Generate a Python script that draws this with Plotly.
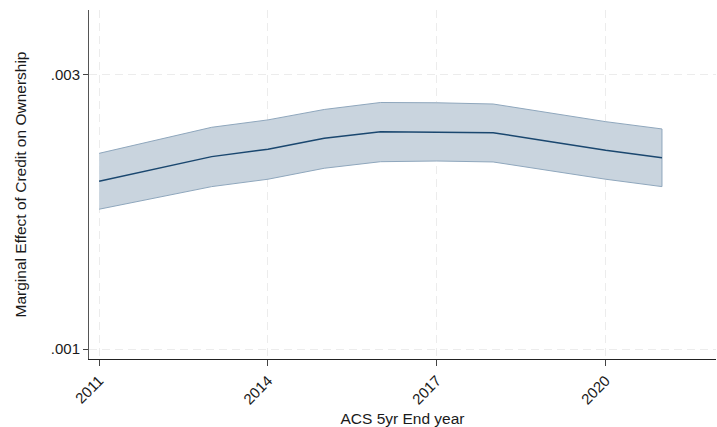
import plotly.graph_objects as go

years = [2011, 2012, 2013, 2014, 2015, 2016, 2017, 2018, 2019, 2020, 2021]
effect = [0.002224, 0.002314, 0.002404, 0.002458, 0.002538, 0.002586, 0.002584, 0.002579, 0.002515, 0.002450, 0.002396]
upper = [0.002428, 0.002523, 0.002618, 0.002672, 0.002748, 0.002799, 0.002797, 0.002788, 0.002726, 0.002659, 0.002606]
lower = [0.002020, 0.002102, 0.002185, 0.002239, 0.002319, 0.002367, 0.002372, 0.002365, 0.002303, 0.002239, 0.002185]
x_ticks = [2011, 2014, 2017, 2020]
y_ticks = [0.001, 0.003]
y_ticktext = [".001", ".003"]

fig = go.Figure()
fig.add_trace(go.Scatter(
    x=years + years[::-1], y=upper + lower[::-1],
    fill="toself", fillcolor="rgba(201,212,222,1)",
    line=dict(color="#8fa7bd", width=1), mode="lines",
    hoverinfo="skip", showlegend=False))
fig.add_trace(go.Scatter(
    x=years, y=effect, mode="lines",
    line=dict(color="#1a476f", width=1.5), showlegend=False))

font = "Liberation Sans, Arial, Helvetica, sans-serif"
fig.update_layout(
    width=717, height=427,
    margin=dict(l=89, r=1, t=10, b=68),
    paper_bgcolor="white", plot_bgcolor="white",
    font=dict(family=font, size=15.5, color="#1a1a1a"),
    showlegend=False,
)
fig.update_xaxes(
    range=[2010.82, 2021.96], tickvals=x_ticks, tickangle=-45,
    tickfont=dict(size=15),
    showline=True, linecolor="#222", linewidth=1,
    ticks="outside", ticklen=6, tickcolor="#444",
    showgrid=True, gridcolor="#ececec", griddash="8px,5px", gridwidth=1,
    zeroline=False,
    title=dict(text="ACS 5yr End year", font=dict(size=15.5), standoff=8),
)
fig.update_yaxes(
    range=[0.000927, 0.003474], tickvals=y_ticks, ticktext=y_ticktext,
    tickfont=dict(size=15),
    showline=True, linecolor="#555", linewidth=1,
    ticks="outside", ticklen=5, tickcolor="#444",
    showgrid=True, gridcolor="#ececec", griddash="8px,5px", gridwidth=1,
    zeroline=False,
    title=dict(text="Marginal Effect of Credit on Ownership", font=dict(size=15.5), standoff=20),
)
fig.write_html("out.html")
